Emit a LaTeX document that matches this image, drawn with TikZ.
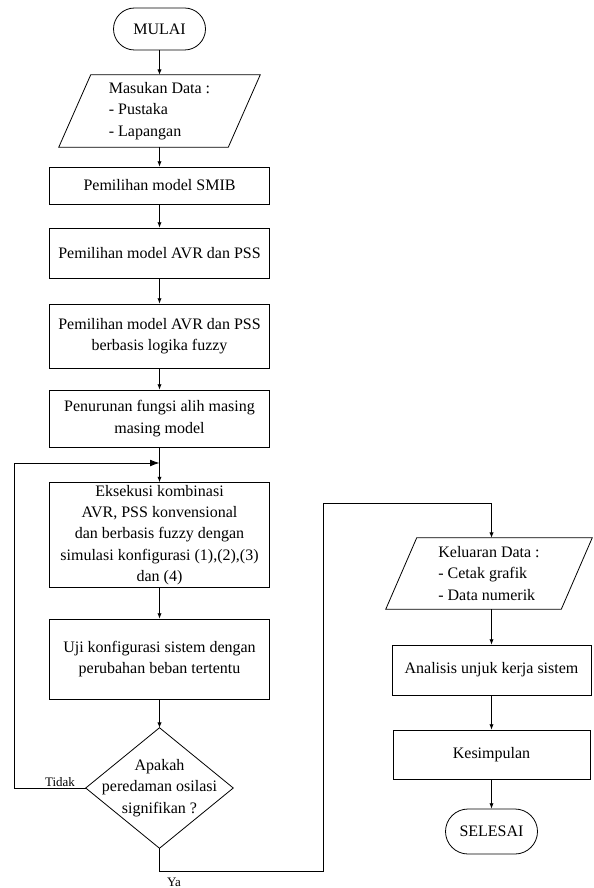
\documentclass[tikz,border=0pt]{standalone}
\usepackage{fontspec}
\setmainfont{Liberation Serif}
\usetikzlibrary{arrows.meta}
\begin{document}
\begin{tikzpicture}[x=0.75pt,y=-0.75pt,
  every node/.style={font=\fontsize{12}{16}\selectfont, inner sep=0pt},
  box/.style={draw, line width=0.6pt, align=center, minimum width=165pt},
  term/.style={draw, line width=0.6pt, align=center, minimum width=69pt},
  ghost/.style={align=left},
  shp/.style={line width=0.6pt},
  arr/.style={-{Latex[length=4pt,width=3.2pt]}, line width=0.6pt},
  bigarr/.style={-{Latex[length=7pt,width=5pt]}, line width=0.6pt},
  lbl/.style={font=\fontsize{9.75}{11}\selectfont}]
\useasboundingbox (0,0) rectangle (593,888);

% left column
\node[term, minimum height=31.5pt, rounded corners=15.75pt] (mulai) at (159.5,29) {MULAI};
\node[ghost, minimum width=150.75pt, minimum height=54pt] (in) at (159.5,111) {Masukan Data :\\- Pustaka\\- Lapangan};
\draw[shp] ([xshift=24pt]in.north west) -- (in.north east) -- ([xshift=-24pt]in.south east) -- (in.south west) -- cycle;
\node[box, minimum height=27.75pt] (b1) at (159.5,185.5) {Pemilihan model SMIB};
\node[box, minimum height=37.5pt] (b2) at (159.5,253) {Pemilihan model AVR dan PSS};
\node[box, minimum height=48pt] (b3) at (159.5,336) {Pemilihan model AVR dan PSS\\berbasis logika fuzzy};
\node[box, minimum height=42.75pt] (b4) at (159.5,418.5) {Penurunan fungsi alih masing\\masing model};
\node[box, minimum height=78.75pt] (b5) at (159.5,535) {Eksekusi kombinasi\\AVR, PSS konvensional\\dan berbasis fuzzy dengan\\simulasi konfigurasi (1),(2),(3)\\dan (4)};
\node[box, minimum height=60pt] (b6) at (159.5,659) {Uji konfigurasi sistem dengan\\perubahan beban tertentu};
\node[align=center, minimum width=110.25pt, minimum height=90pt] (dec) at (159.5,788) {Apakah\\peredaman osilasi\\signifikan ?};
\draw[shp] (dec.north) -- (dec.east) -- (dec.south) -- (dec.west) -- cycle;

% right column
\node[ghost, minimum width=154.5pt, minimum height=53.25pt] (out) at (489,573.5) {Keluaran Data :\\- Cetak grafik\\- Data numerik};
\draw[shp] ([xshift=23.25pt]out.north west) -- (out.north east) -- ([xshift=-23.25pt]out.south east) -- (out.south west) -- cycle;
\node[box, minimum width=149.25pt, minimum height=37.5pt] (anal) at (491.5,670) {Analisis unjuk kerja sistem};
\node[box, minimum width=147.75pt, minimum height=36.75pt] (kes) at (491.5,754.5) {Kesimpulan};
\node[term, minimum height=33.75pt, rounded corners=16.875pt] (sel) at (491.5,831.5) {SELESAI};

% labels
\node[lbl] (tidak) at (60,782) {Tidak};
\node[lbl] (ya) at (174,882) {Ya};

% connectors
\coordinate (loopc) at (14,463);
\coordinate (ya1) at (323,871);
\coordinate (ya2) at (323,503);
\draw[arr] (mulai) -- (in);
\draw[arr] (in) -- (b1);
\draw[arr] (b1) -- (b2);
\draw[arr] (b2) -- (b3);
\draw[arr] (b3) -- (b4);
\draw[arr] (b4) -- (b5);
\draw[arr] (b5) -- (b6);
\draw[arr] (b6) -- (dec);
\draw[bigarr] (dec.west) -| (loopc) -- (b4.south |- loopc);
\draw[arr] (dec.south) |- (ya1) -- (ya2) -| (anal.north |- out.north);
\draw[arr] (anal.north |- out.south) -- (anal.north);
\draw[arr] (anal) -- (kes);
\draw[arr] (kes) -- (sel);
\end{tikzpicture}
\end{document}
